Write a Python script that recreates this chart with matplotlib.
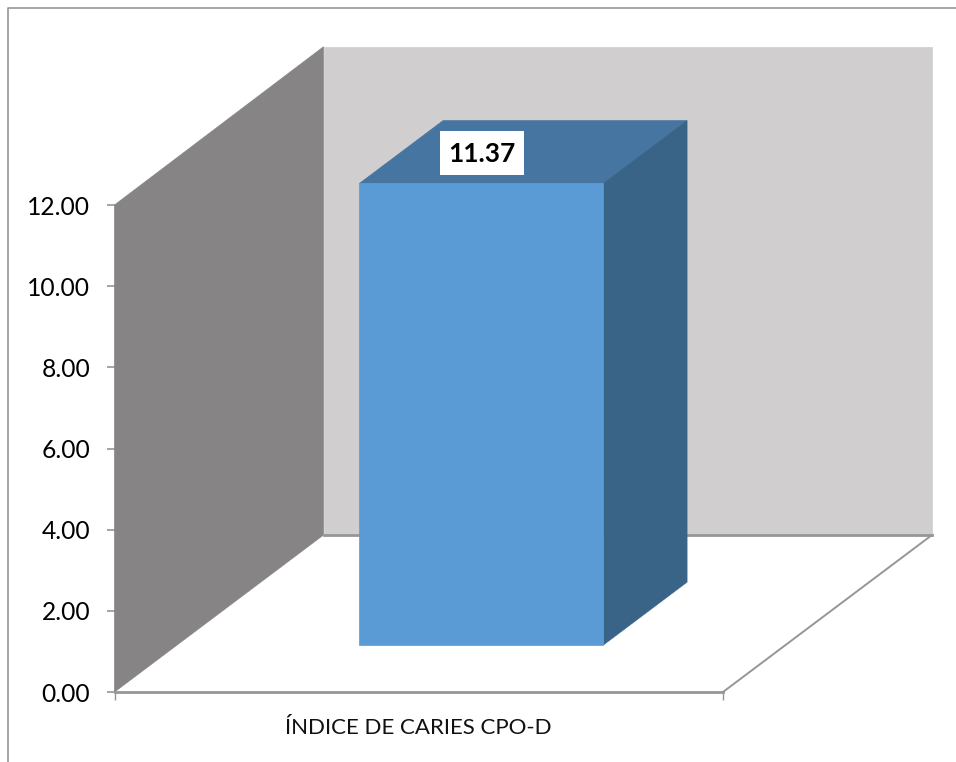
import matplotlib
matplotlib.use("Agg")
import matplotlib.pyplot as plt
from matplotlib.lines import Line2D
from matplotlib.patches import Polygon, Rectangle

plt.rcParams["font.family"] = ["Lato", "DejaVu Sans"]

# ---- data
categories = ["ÍNDICE DE CARIES CPO-D"]
values = [11.37]
y_ticks = [0, 2, 4, 6, 8, 10, 12]

# ---- colours
WALL_BACK = "#D0CECE"
WALL_SIDE = "#868484"
BAR_FRONT = "#5B9BD5"
BAR_TOP = "#4675A2"
BAR_SIDE = "#3A6487"
LINE = "#969696"

W, H = 956, 762
fig = plt.figure(figsize=(W / 100, H / 100), dpi=100)
ax = fig.add_axes([114.5 / W, 1 - 692 / H, 608.5 / W, 487 / H])
ax.set_xlim(0, 1)
ax.set_ylim(0, 12)

# fake 3d: how far the back of the box is shifted, in data units
DX = 209 / 608.5
DY = 157 / 40.58
WALL_TOP = 12.03


def proj(x, y, d):
    return (x + d * DX, y + d * DY)


def face(points, color, z):
    ax.add_patch(Polygon([proj(*p) for p in points], closed=True, facecolor=color,
                         edgecolor=color, lw=0.5, clip_on=False, zorder=z))


# walls
face([(0, 0, 1), (1, 0, 1), (1, WALL_TOP, 1), (0, WALL_TOP, 1)], WALL_BACK, 1)
face([(0, 0, 0), (0, 0, 1), (0, WALL_TOP, 1), (0, 12, 0)], WALL_SIDE, 2)

# floor edges
for a, b, lw in [((0, 0, 0), (1, 0, 0), 2), ((0, 0, 1), (1, 0, 1), 2), ((1, 0, 0), (1, 0, 1), 1.4)]:
    pa, pb = proj(*a), proj(*b)
    ax.add_line(Line2D([pa[0], pb[0]], [pa[1], pb[1]], color=LINE, lw=lw,
                       clip_on=False, zorder=3))

# the bar
BAR_W = 0.401
D0, D1 = 0.3, 0.7
for i, v in enumerate(values):
    x0 = 0.5 + i - BAR_W / 2
    x1 = x0 + BAR_W
    face([(x0, v, D0), (x1, v, D0), (x1, v, D1), (x0, v, D1)], BAR_TOP, 4)
    face([(x1, 0, D0), (x1, 0, D1), (x1, v, D1), (x1, v, D0)], BAR_SIDE, 4)
    face([(x0, 0, D0), (x1, 0, D0), (x1, v, D0), (x0, v, D0)], BAR_FRONT, 5)

    # value label in its white box
    lx, ly = 0.604, v + 1.91
    bw, bh = 84 / 608.5, 44 / 40.58
    ax.add_patch(Rectangle((lx - bw / 2, ly - bh / 2), bw, bh, facecolor="white",
                           edgecolor="none", zorder=6, clip_on=False))
    ax.text(lx, ly + 0.02, f"{v:.2f}", ha="center", va="center_baseline", fontsize=19,
            fontweight="bold", color="black", zorder=7)

# axes
for s in ax.spines.values():
    s.set_visible(False)
ax.patch.set_visible(False)
ax.set_yticks(y_ticks)
ax.set_yticklabels([f"{t:.2f}" for t in y_ticks], fontsize=17.7, color="black")
ax.tick_params(axis="y", length=6, width=1.2, color=LINE, pad=11.5)
ax.set_xticks([0, 1])
ax.set_xticklabels(["", ""])
ax.tick_params(axis="x", length=6, width=1, color=LINE)
ax.set_xticks([0.5], labels=categories, minor=True)
ax.tick_params(axis="x", which="minor", length=0, labelsize=16, pad=19, labelcolor="#111111")

# chart frame, only left and top show
fig.add_artist(Line2D([8 / W, 8 / W, 1], [0, 1 - 8 / H, 1 - 8 / H], color=LINE, lw=1.2))

fig.savefig("out.png", dpi=100)
